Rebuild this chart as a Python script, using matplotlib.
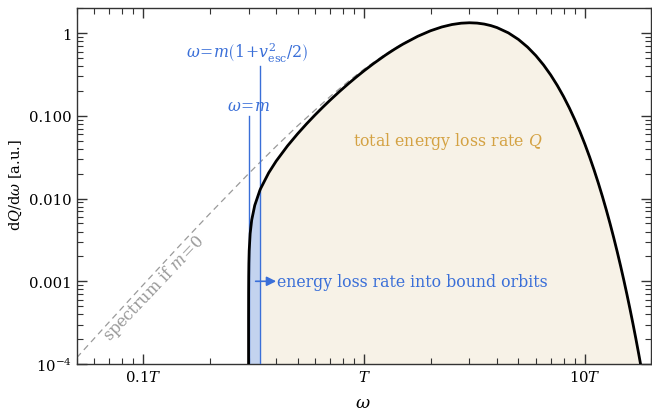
import matplotlib
matplotlib.use("Agg")
import matplotlib.pyplot as plt
import numpy as np
from matplotlib.ticker import FixedLocator, FixedFormatter, LogLocator, NullFormatter

plt.rcParams['font.family'] = ['DejaVu Serif']
plt.rcParams['mathtext.fontset'] = 'dejavuserif'

# massive spectrum
omega = [0.3, 0.30005, 0.3002, 0.3005, 0.301, 0.302, 0.305, 0.31, 0.32, 0.3375, 0.34, 0.37,
         0.4, 0.45, 0.5, 0.55, 0.6, 0.65, 0.7, 0.775, 0.85, 0.925, 1.0, 1.1, 1.25, 1.375,
         1.5, 1.75, 2.0, 2.25, 2.5, 2.75, 3.0, 3.25, 3.5, 3.75, 4.0, 4.5, 5.0, 5.5,
         6.0, 6.5, 7.0, 7.5, 8.0, 8.5, 9.0, 9.5, 10.0, 10.5, 11.0, 11.5, 12.0, 12.5,
         13.0, 13.5, 14.0, 14.5, 15.0, 15.5, 16.0, 16.5, 17.0, 17.5, 18.0, 19.0, 20.0]
dQ = [1e-7, 3.652e-4, 7.313e-4, 1.159e-3, 1.644e-3, 2.340e-3, 3.771e-3, 5.505e-3, 8.280e-3,
      0.012567, 0.013166, 0.020478, 0.028377, 0.043309, 0.060653, 0.080453, 0.10266,
      0.127185, 0.15390, 0.19773, 0.24559, 0.29687, 0.35094, 0.42625, 0.54322, 0.64145,
      0.73785, 0.91753, 1.07043, 1.18984, 1.27331, 1.32157, 1.33752, 1.32535, 1.28994,
      1.23623, 1.16891, 1.01006, 0.84072, 0.67893, 0.53475, 0.41243, 0.31249, 0.23314,
      0.17164, 0.12488, 0.08992, 0.064144, 0.04538, 0.031863, 0.022222, 0.015401,
      0.010614, 7.2765e-3, 4.9646e-3, 3.3722e-3, 2.2812e-3, 1.5372e-3, 1.03221e-3,
      6.9079e-4, 4.6086e-4, 3.0656e-4, 2.0336e-4, 1.3455e-4, 8.881e-5, 3.842e-5, 1.649e-5]

# massless spectrum
omega0 = [0.05, 0.07, 0.1, 0.15, 0.2, 0.3, 0.4, 0.5, 0.7, 0.85, 1.0, 1.25, 1.5, 2.0, 2.5,
          3.0, 3.5, 4.0, 4.5, 5.0, 5.5, 6.0, 6.5, 7.0, 8.0, 9.0, 10.0, 11.0, 12.0, 13.0,
          14.0, 15.0, 16.0, 17.0, 18.0, 20.0]
dQ0 = [1.189e-4, 3.198e-4, 9.048e-4, 2.905e-3, 6.550e-3, 0.020002, 0.042900, 0.075816,
       0.17033, 0.26248, 0.36788, 0.55957, 0.75307, 1.08268, 1.28258, 1.34425, 1.29470,
       1.17223, 1.01231, 0.84224, 0.67994, 0.53542, 0.41287, 0.31278, 0.17176, 0.089966,
       0.0454, 0.022230, 0.010617, 4.966e-3, 2.2817e-3, 1.0324e-3, 4.609e-4, 2.0339e-4,
       8.882e-5, 1.649e-5]

m_val = 0.3
w_esc = 0.3375

xticks = [0.1, 1, 10]
xticklabels = [r"0.1$T$", r"$T$", r"10$T$"]
yticks = [1e-4, 1e-3, 1e-2, 1e-1, 1]
yticklabels = [r"$10^{-4}$", "0.001", "0.010", "0.100", "1"]

blue = '#3a6fd8'
gold = '#d4a243'
fs = 11.3

fig = plt.figure(figsize=(6.52, 4.14), dpi=100)
ax = fig.add_axes([0.1176, 0.1184, 0.8815, 0.8591])
ax.set_xscale('log')
ax.set_yscale('log')
ax.set_xlim(0.05, 20)
ax.set_ylim(1e-4, 2)

w = np.array(omega)
q = np.array(dQ)
mask_b = w >= w_esc
ax.fill_between(w[mask_b], q[mask_b], 1e-5, color='#f7f2e7', lw=0, zorder=1)
mask_a = w <= w_esc
ax.fill_between(w[mask_a], q[mask_a], 1e-5, color='#c3d3ef', lw=0, zorder=1)

ax.plot(omega0, dQ0, color='#9a9a9a', lw=0.9, dashes=(5, 3.5), zorder=2)
ax.plot(omega, dQ, color='black', lw=2, zorder=4, solid_capstyle='butt',
        solid_joinstyle='round')

ax.plot([m_val, m_val], [1e-5, 0.1], color=blue, lw=1.0, zorder=3)
ax.plot([w_esc, w_esc], [1e-5, 0.405], color=blue, lw=1.0, zorder=3)

ax.text(m_val, 0.104, r"$\omega\!=\!m$", color=blue, fontsize=fs, ha='center', va='bottom')
ax.text(0.297, 0.43, r"$\omega\!=\!m\left(1\!+\!v_{\rm esc}^{2}/2\right)$", color=blue,
        fontsize=fs, ha='center', va='bottom')

ax.annotate("", xy=(0.40, 1e-3), xytext=(0.323, 1e-3),
            arrowprops=dict(arrowstyle='-|>', color=blue, lw=1.2, mutation_scale=14,
                            shrinkA=0, shrinkB=0), zorder=5)
ax.text(0.403, 1e-3, "energy loss rate into bound orbits", color=blue, fontsize=fs,
        ha='left', va='center')

ax.text(2.39, 0.050, r"total energy loss rate $Q$", color=gold, fontsize=fs,
        ha='center', va='center')

ax.text(0.112, 8.5e-4, r"spectrum if $m\!=\!0$", color='#9a9a9a', fontsize=11.5,
        ha='center', va='center', rotation=46.5)

ax.xaxis.set_major_locator(FixedLocator(xticks))
ax.xaxis.set_major_formatter(FixedFormatter(xticklabels))
ax.xaxis.set_minor_locator(LogLocator(base=10, subs=np.arange(2, 10), numticks=20))
ax.xaxis.set_minor_formatter(NullFormatter())
ax.yaxis.set_major_locator(FixedLocator(yticks))
ax.yaxis.set_major_formatter(FixedFormatter(yticklabels))
ax.yaxis.set_minor_locator(LogLocator(base=10, subs=np.arange(2, 10), numticks=20))
ax.yaxis.set_minor_formatter(NullFormatter())

ax.tick_params(which='both', direction='in', top=True, right=True, labelsize=10.7,
               color='#333333')
ax.tick_params(which='major', length=7, width=1)
ax.tick_params(which='minor', length=4, width=0.8)
for s in ax.spines.values():
    s.set_linewidth(1.0)
    s.set_color('#333333')

fig.text(363 / 652, 1 - 404 / 414, r"$\omega$", fontsize=12.5, ha='center', va='center')
fig.text(16 / 652, 1 - 185 / 414, r"d$Q$/d$\omega$ [a.u.]", fontsize=10.5,
         rotation=90, ha='center', va='center')

fig.savefig("out.png", dpi=100)
